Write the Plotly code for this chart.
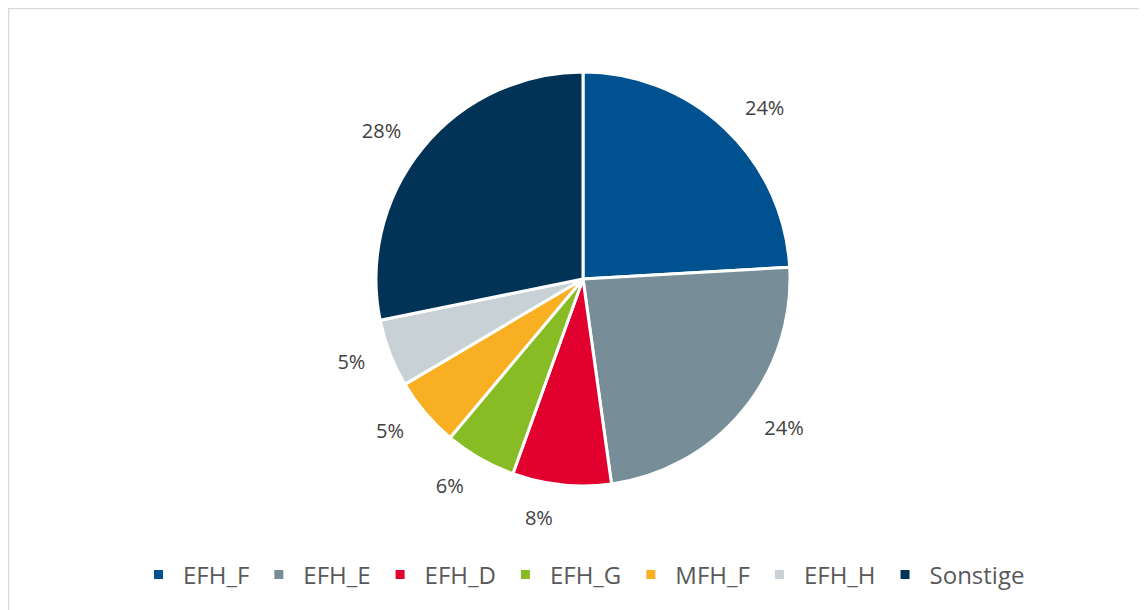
import plotly.graph_objects as go

categories = ["EFH_F", "EFH_E", "EFH_D", "EFH_G", "MFH_F", "EFH_H", "Sonstige"]
values = [24.1, 23.7, 7.7, 5.6, 5.4, 5.3, 28.2]
colors = ["#00518F", "#778E99", "#E2002E", "#88BC24", "#F8AF21", "#C8D1D6", "#003355"]

W, H = 1147, 610
cx, cy, r = 575, 271, 207
r_lab = 226


def dom(rad):
    return dict(x=[(cx - rad) / W, (cx + rad) / W], y=[(H - cy - rad) / H, (H - cy + rad) / H])


fig = go.Figure()
fig.add_trace(go.Pie(
    labels=categories,
    values=values,
    sort=False,
    direction="clockwise",
    rotation=0,
    marker=dict(colors=colors, line=dict(color="white", width=3)),
    textinfo="none",
    domain=dom(r),
    hoverinfo="label+percent",
))
# transparent ring used only to place the percentage labels further out
fig.add_trace(go.Pie(
    labels=categories,
    values=values,
    sort=False,
    direction="clockwise",
    rotation=0,
    marker=dict(colors=["rgba(0,0,0,0)"] * len(categories), line=dict(width=0)),
    texttemplate="%{percent:.0%}",
    textposition="outside",
    textfont=dict(family="Open Sans", size=20, color="#404040"),
    domain=dom(r_lab),
    showlegend=False,
    hoverinfo="skip",
))

fig.update_layout(
    width=W, height=H,
    margin=dict(l=0, r=0, t=0, b=0),
    paper_bgcolor="white",
    showlegend=True,
    legend=dict(
        orientation="h",
        x=126 / W, xanchor="left",
        y=(H - 567) / H, yanchor="middle",
        font=dict(family="Open Sans", size=24, color="#595959"),
        traceorder="normal",
        itemwidth=39,
    ),
    shapes=[dict(type="rect", xref="paper", yref="paper",
                 x0=0.5 / W, x1=1.01, y0=-0.01, y1=1 - 0.5 / H,
                 line=dict(color="#D9D9D9", width=1.5))],
)

fig.write_html("out.html")
